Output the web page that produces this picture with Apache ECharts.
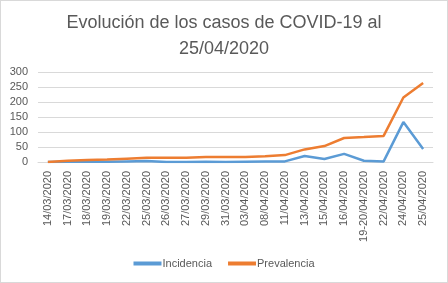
<!DOCTYPE html>
<html>
<head>
<meta charset="utf-8">
<script src="https://cdn.jsdelivr.net/npm/echarts@6/dist/echarts.min.js"></script>
<style>
  html, body { margin: 0; padding: 0; background: #fff; }
  #main { width: 446px; height: 281px; border: 1px solid #d9d9d9; }
</style>
</head>
<body>
<div id="main"></div>
<script>
// fechas
var fechas = ['14/03/2020', '17/03/2020', '18/03/2020', '19/03/2020', '22/03/2020', '25/03/2020',
    '26/03/2020', '27/03/2020', '29/03/2020', '31/03/2020', '03/04/2020', '08/04/2020',
    '11/04/2020', '13/04/2020', '15/04/2020', '16/04/2020', '19-20/04/2020', '22/04/2020',
    '24/04/2020', '25/04/2020'];
var incidencia = [0, 1, 1, 1, 2, 3, 0, 0, 1, 0, 1, 2, 2, 20, 10, 27, 4, 2, 133, 43];
var prevalencia = [0, 4, 7, 8, 11, 14, 14, 14, 17, 17, 17, 19, 23, 42, 53, 80, 83, 87, 215, 263];
var yTicks = [0, 50, 100, 150, 200, 250, 300];

var chartDom = document.getElementById('main');
var myChart = echarts.init(chartDom);
var option;

option = {
    animation: false,
    title: {
        left: 'center',
        top: 4,
        text: 'Evolución de los casos de COVID-19 al\n25/04/2020',
        textStyle: {
            color: '#595959',
            fontSize: 18,
            fontWeight: 'normal',
            fontFamily: 'Liberation Sans',
            lineHeight: 26
        }
    },
    grid: {
        left: 37,
        right: 14,
        top: 71,
        bottom: 120
    },
    legend: {
        bottom: 8,
        left: 'center',
        itemWidth: 28,
        itemHeight: 4,
        itemGap: 16,
        icon: 'rect',
        textStyle: { color: '#595959', fontSize: 11, fontFamily: 'Liberation Sans', padding: [0, 0, 0, -4] },
        data: ['Incidencia', 'Prevalencia']
    },
    xAxis: {
        type: 'category',
        data: fechas,
        boundaryGap: true,
        axisLine: { lineStyle: { color: '#d9d9d9' } },
        axisTick: { show: false },
        axisLabel: {
            rotate: 90,
            interval: 0,
            color: '#595959',
            fontSize: 11,
            fontFamily: 'Liberation Sans',
            margin: 9
        }
    },
    yAxis: {
        type: 'value',
        min: 0,
        max: 300,
        interval: 50,
        axisLine: { show: false },
        axisTick: { show: false },
        splitLine: { lineStyle: { color: '#d9d9d9' } },
        axisLabel: {
            color: '#595959',
            fontSize: 11,
            fontFamily: 'Liberation Sans',
            margin: 10,
            formatter: function (v) { return yTicks.indexOf(v) >= 0 ? v : ''; }
        }
    },
    series: [{
        name: 'Incidencia',
        type: 'line',
        data: incidencia,
        symbol: 'none',
        itemStyle: { color: '#5B9BD5' },
        lineStyle: { color: '#5B9BD5', width: 2.5 }
    }, {
        name: 'Prevalencia',
        type: 'line',
        data: prevalencia,
        symbol: 'none',
        itemStyle: { color: '#ED7D31' },
        lineStyle: { color: '#ED7D31', width: 2.5 }
    }]
};

option && myChart.setOption(option);
</script>
</body>
</html>
